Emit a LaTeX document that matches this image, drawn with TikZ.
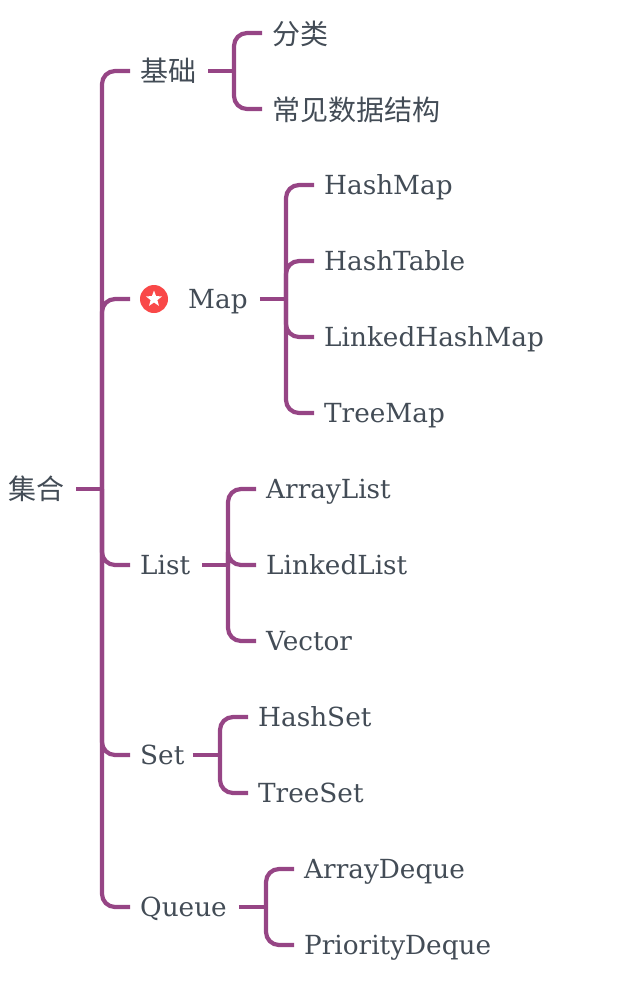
\documentclass[tikz,border=0pt]{standalone}
\usepackage{fontspec}
\setmainfont{DejaVu Serif}
\newfontfamily\cjk{Noto Sans CJK SC}
\usetikzlibrary{shapes.geometric}
\definecolor{branchpurple}{HTML}{964585}
\definecolor{labelgrey}{HTML}{434C56}
\definecolor{starred}{HTML}{F94848}
\tikzset{
    leaf/.style = {anchor=west, inner xsep=10pt, inner ysep=0pt, text=labelgrey, font=\fontsize{26.3}{30}\selectfont, text height=25pt, text depth=7pt},
    hanzi/.style = {leaf, font=\cjk\fontsize{28}{32}\selectfont, text height=28pt},
    branch/.style = {draw=branchpurple, line width=4.2pt, rounded corners=13pt}
}
\begin{document}
\begin{tikzpicture}[x=1pt, y=-1pt]
    \useasboundingbox (0,0) rectangle (617,989);
    % root and first level
    \node[hanzi] (jihe) at (-2,489) {集合};
    \node[hanzi] (jichu) at (130,71) {基础};
    \node[shape=circle, fill=starred, minimum size=28pt, inner sep=0pt, outer sep=10pt] (mapicon) at (154,299) {};
    \node[shape=star, star points=5, star point ratio=2.4, fill=white, minimum size=17pt, inner sep=0pt] (mapstar) at (mapicon) {};
    \node[leaf] (map) at (178,299) {Map};
    \node[leaf] (list) at (130,565) {List};
    \node[leaf] (set) at (130,755) {Set};
    \node[leaf] (queue) at (130,907) {Queue};
    % leaves
    \node[hanzi] (fenlei) at (262,34) {分类};
    \node[hanzi] (changjian) at (262,110) {常见数据结构};
    \node[leaf] (hashmap) at (314,185) {HashMap};
    \node[leaf] (hashtable) at (314,261) {HashTable};
    \node[leaf] (linkedhashmap) at (314,337) {LinkedHashMap};
    \node[leaf] (treemap) at (314,413) {TreeMap};
    \node[leaf] (arraylist) at (256,489) {ArrayList};
    \node[leaf] (linkedlist) at (256,565) {LinkedList};
    \node[leaf] (vector) at (256,641) {Vector};
    \node[leaf] (hashset) at (248,717) {HashSet};
    \node[leaf] (treeset) at (248,793) {TreeSet};
    \node[leaf] (arraydeque) at (294,869) {ArrayDeque};
    \node[leaf] (prioritydeque) at (294,945) {PriorityDeque};
    % spines
    \coordinate (rootspine) at (102,489);
    \coordinate (jichuspine) at (234,71);
    \coordinate (mapspine) at (286,299);
    \coordinate (listspine) at (228,565);
    \coordinate (setspine) at (220,755);
    \coordinate (queuespine) at (266,907);
    % connectors
    \draw[branch] ([xshift=2pt]jihe.east) -- (rootspine);
    \draw[branch] ([xshift=2pt]jichu.east) -- (jichuspine);
    \draw[branch] ([xshift=2pt]map.east) -- (mapspine);
    \draw[branch] ([xshift=2pt]list.east) -- (listspine);
    \draw[branch] ([xshift=-2pt]set.east) -- (setspine);
    \draw[branch] ([xshift=2pt]queue.east) -- (queuespine);
    \foreach \kid in {jichu, mapicon, list, set, queue}
        \draw[branch] (rootspine) |- (\kid.west);
    \foreach \kid in {fenlei, changjian}
        \draw[branch] (jichuspine) |- ([yshift=1pt]\kid.west);
    \foreach \kid in {hashmap, hashtable, linkedhashmap, treemap}
        \draw[branch] (mapspine) |- (\kid.west);
    \foreach \kid in {arraylist, linkedlist, vector}
        \draw[branch] (listspine) |- (\kid.west);
    \foreach \kid in {hashset, treeset}
        \draw[branch] (setspine) |- (\kid.west);
    \foreach \kid in {arraydeque, prioritydeque}
        \draw[branch] (queuespine) |- (\kid.west);
\end{tikzpicture}
\end{document}
